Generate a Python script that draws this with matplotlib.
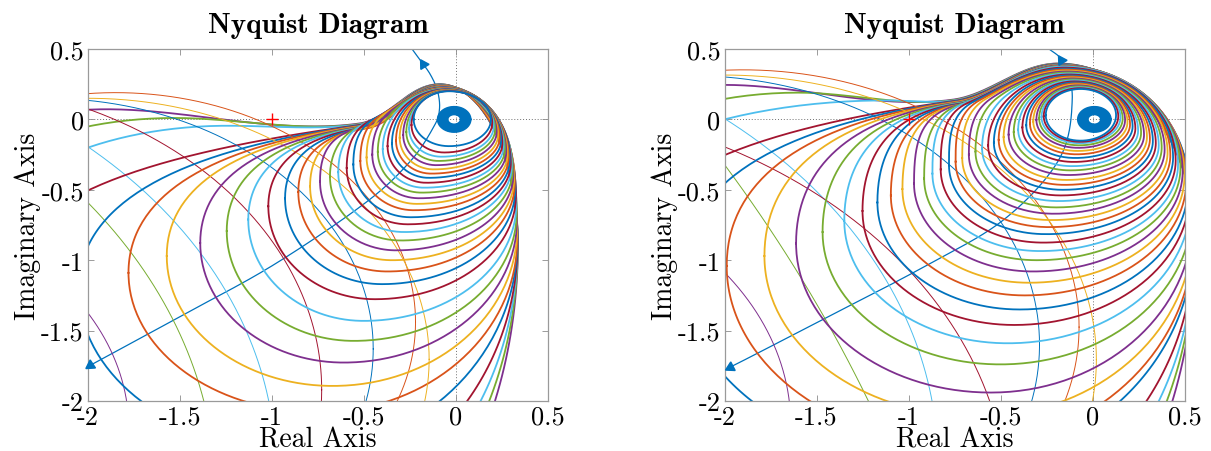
import numpy as np
import matplotlib
matplotlib.use("Agg")
import matplotlib.pyplot as plt

plt.rcParams["axes.unicode_minus"] = False

MATLAB_COLORS = ["#0072BD", "#D95319", "#EDB120", "#7E2F8E",
                 "#77AC30", "#4DBEEE", "#A2142F"]

TICKS = [-2, -1.5, -1, -0.5, 0, 0.5]
TICK_LABELS = ["-2", "-1.5", "-1", "-0.5", "0", "0.5"]

# ------------------------------------------------------------------
# Left panel: loops of systems k = 4 .. 36 (outermost first)
# ------------------------------------------------------------------
left_first_k = 4
left_loop_left_x = [-3.2, -2.91, -2.63, -2.45, -2.05, -1.78, -1.572, -1.39,
                    -1.246, -1.129, -1.02, -0.929, -0.857, -0.793, -0.739, -0.685, -0.64, -0.594,
                    -0.558, -0.52, -0.486, -0.455, -0.425, -0.398, -0.372, -0.348, -0.326, -0.306,
                    -0.287, -0.27, -0.255, -0.242, -0.23]
left_loop_left_y = [-1.0, -1.0, -1.0, -1.2, -1.2, -1.09, -0.97, -0.877,
                    -0.793, -0.711, -0.617, -0.56, -0.515, -0.475, -0.44, -0.405, -0.375, -0.345,
                    -0.32, -0.295, -0.27, -0.25, -0.23, -0.21, -0.19, -0.17, -0.15, -0.13,
                    -0.11, -0.09, -0.065, -0.04, 0.0]
left_loop_bottom_x = [-1.1, -1.05, -1.0, -0.95, -0.85, -0.749, -0.67, -0.61,
                      -0.555, -0.501, -0.44, -0.402, -0.373, -0.347, -0.324, -0.301, -0.282, -0.262,
                      -0.246, -0.229, -0.213, -0.2, -0.187, -0.174, -0.161, -0.148, -0.135, -0.122,
                      -0.108, -0.095, -0.079, -0.063, -0.037]
left_loop_bottom_y = [-3.6, -3.3, -3.0, -2.7, -2.35, -2.08, -1.893, -1.727,
                      -1.573, -1.431, -1.277, -1.17, -1.08, -1.0, -0.93, -0.86, -0.8, -0.745,
                      -0.695, -0.645, -0.6, -0.56, -0.52, -0.485, -0.45, -0.415, -0.385, -0.355,
                      -0.325, -0.295, -0.265, -0.235, -0.19]
left_loop_top_x = [-0.088, -0.087, -0.086, -0.085, -0.084, -0.083, -0.082, -0.081,
                   -0.08, -0.079, -0.078, -0.077, -0.076, -0.074, -0.072, -0.07, -0.068, -0.066,
                   -0.064, -0.062, -0.06, -0.058, -0.056, -0.054, -0.052, -0.05, -0.048, -0.046,
                   -0.044, -0.042, -0.04, -0.038, -0.036]
left_loop_top_y = [0.25, 0.249, 0.248, 0.247, 0.246, 0.245, 0.244, 0.243,
                   0.242, 0.241, 0.24, 0.239, 0.238, 0.236, 0.234, 0.232, 0.23, 0.228,
                   0.226, 0.224, 0.222, 0.22, 0.218, 0.216, 0.214, 0.212, 0.21, 0.208,
                   0.206, 0.205, 0.203, 0.202, 0.2]
left_loop_right_x = [0.336, 0.336, 0.335, 0.335, 0.334, 0.333, 0.332, 0.331,
                     0.33, 0.328, 0.326, 0.323, 0.32, 0.316, 0.312, 0.308, 0.303, 0.298,
                     0.292, 0.286, 0.28, 0.273, 0.266, 0.259, 0.252, 0.245, 0.237, 0.229,
                     0.221, 0.213, 0.205, 0.197, 0.19]
left_loop_right_y = [-0.9, -0.89, -0.88, -0.87, -0.86, -0.85, -0.78, -0.72,
                     -0.66, -0.6, -0.54, -0.49, -0.45, -0.42, -0.39, -0.36, -0.33, -0.31,
                     -0.29, -0.27, -0.25, -0.23, -0.21, -0.19, -0.17, -0.15, -0.13, -0.11,
                     -0.09, -0.07, -0.05, -0.025, 0.0]
# upper-left humps of the largest loops
left_loop_hump = [(-1.9, 0.072), (-1.53, 0.01), (-1.24, -0.045)]
left_pinch = (-0.53, -0.03)
left_pinch_sizes = (0.35, 0.75)

# thin circular branches: system k, centre and radius
left_thin_k = [4, 5, 6, 7, 8, 9, 10]
left_thin_cx = [-3.42, -4.76, -4.05, -2.93, -2.23, -1.85, -2.0]
left_thin_cy = [-2.2, -2.67, -2.48, -1.92, -1.63, -1.44, -1.704]
left_thin_r = [1.642, 3.455, 3.07, 2.2, 1.78, 1.63, 1.854]

# system 1 branch through the view
left_main_path = [(-2.1, -1.82), (-2.0, -1.755), (-1.5, -1.40), (-1.0, -1.04), (-0.5, -0.6),
                  (-0.25, -0.3), (-0.12, -0.05), (-0.09, 0.07), (-0.1, 0.2), (-0.14, 0.32),
                  (-0.2, 0.43), (-0.25, 0.52)]
left_arrow_at = [(-1.97, -1.775), (-0.175, 0.39)]
left_ring_center = (-0.01, 0.0)

# ------------------------------------------------------------------
# Right panel: loops of systems k = 4 .. 43 (outermost first)
# ------------------------------------------------------------------
right_first_k = 4
right_loop_left_x = [-3.3, -3.07, -2.98, -2.59, -2.228, -1.988, -1.783, -1.611,
                     -1.467, -1.349, -1.25, -1.169, -1.096, -1.033, -0.97, -0.915, -0.87, -0.825,
                     -0.78, -0.744, -0.708, -0.672, -0.636, -0.6, -0.567, -0.536, -0.51, -0.483,
                     -0.456, -0.428, -0.404, -0.381, -0.36, -0.34, -0.322, -0.305, -0.29, -0.277,
                     -0.265, -0.254]
right_loop_left_y = [-1.0, -1.0, -1.0, -1.1, -1.1, -1.04, -0.97, -0.88,
                     -0.8, -0.72, -0.65, -0.59, -0.54, -0.495, -0.455, -0.42, -0.385, -0.355,
                     -0.325, -0.3, -0.275, -0.25, -0.228, -0.206, -0.185, -0.165, -0.145, -0.126,
                     -0.108, -0.09, -0.073, -0.057, -0.042, -0.028, -0.015, -0.003, 0.008, 0.017,
                     0.024, 0.03]
right_loop_bottom_x = [-0.95, -0.9, -0.85, -0.8, -0.75, -0.68, -0.62, -0.552,
                       -0.5, -0.46, -0.425, -0.395, -0.368, -0.345, -0.323, -0.303, -0.285, -0.268,
                       -0.252, -0.237, -0.223, -0.21, -0.197, -0.185, -0.173, -0.162, -0.151, -0.14,
                       -0.13, -0.12, -0.111, -0.102, -0.094, -0.087, -0.081, -0.076, -0.072, -0.069,
                       -0.067, -0.065]
right_loop_bottom_y = [-3.7, -3.4, -3.1, -2.8, -2.45, -2.31, -2.11, -1.94,
                       -1.74, -1.59, -1.46, -1.35, -1.25, -1.16, -1.08, -1.0, -0.935, -0.875,
                       -0.815, -0.765, -0.715, -0.67, -0.625, -0.58, -0.54, -0.5, -0.465, -0.43,
                       -0.395, -0.362, -0.332, -0.302, -0.274, -0.248, -0.224, -0.202, -0.184, -0.169,
                       -0.159, -0.151]
right_loop_top_x = [-0.187, -0.185, -0.183, -0.182, -0.18, -0.178, -0.177, -0.175,
                    -0.173, -0.172, -0.17, -0.168, -0.167, -0.165, -0.163, -0.162, -0.16, -0.155,
                    -0.151, -0.147, -0.143, -0.139, -0.135, -0.131, -0.127, -0.123, -0.118, -0.114,
                    -0.11, -0.106, -0.102, -0.098, -0.094, -0.09, -0.086, -0.082, -0.078, -0.074,
                    -0.07, -0.065]
right_loop_top_y = [0.397, 0.396, 0.394, 0.393, 0.392, 0.39, 0.389, 0.388,
                    0.386, 0.385, 0.383, 0.382, 0.381, 0.379, 0.378, 0.376, 0.375, 0.368,
                    0.361, 0.354, 0.347, 0.34, 0.333, 0.326, 0.319, 0.312, 0.305, 0.298,
                    0.291, 0.284, 0.277, 0.27, 0.263, 0.256, 0.249, 0.242, 0.235, 0.228,
                    0.222, 0.216]
right_loop_right_x = [0.558, 0.557, 0.556, 0.554, 0.552, 0.55, 0.548, 0.546,
                      0.543, 0.535, 0.528, 0.52, 0.51, 0.5, 0.49, 0.478, 0.465, 0.452,
                      0.438, 0.423, 0.408, 0.392, 0.376, 0.36, 0.344, 0.328, 0.312, 0.296,
                      0.28, 0.264, 0.248, 0.233, 0.218, 0.204, 0.19, 0.177, 0.164, 0.152,
                      0.14, 0.128]
right_loop_right_y = [-0.88, -0.87, -0.86, -0.85, -0.83, -0.81, -0.76, -0.69,
                      -0.63, -0.57, -0.52, -0.47, -0.435, -0.4, -0.37, -0.345, -0.32, -0.295,
                      -0.27, -0.255, -0.235, -0.215, -0.2, -0.185, -0.17, -0.155, -0.14, -0.125,
                      -0.11, -0.095, -0.08, -0.065, -0.05, -0.035, -0.02, -0.005, 0.005, 0.015,
                      0.022, 0.03]
right_loop_hump = [(-2.0, 0.245), (-1.6, 0.19), (-1.12, 0.135)]
right_pinch = (-0.76, 0.14)
right_pinch_sizes = (0.45, 0.9)

right_thin_k = [4, 5, 6, 7, 8, 9, 10]
right_thin_cx = [-3.45, -12.0, -4.02, -3.35, -2.2, -1.9, -2.0]
right_thin_cy = [-2.17, -6.0, -2.45, -2.75, -1.6, -1.475, -1.706]
right_thin_r = [1.81, 11.5, 3.18, 2.89, 1.912, 1.827, 2.021]

right_main_path = [(-2.1, -1.83), (-1.97, -1.76), (-1.45, -1.41), (-0.92, -1.05), (-0.48, -0.71),
                   (-0.18, -0.28), (-0.11, 0.145), (-0.16, 0.405), (-0.235, 0.5), (-0.26, 0.55)]
right_arrow_at = [(-1.96, -1.77), (-0.18, 0.42)]
right_ring_center = (0.01, 0.0)

RING_RADII = np.linspace(0.035, 0.09, 14)


# ------------------------------------------------------------------
def system_color(k):
    return MATLAB_COLORS[(k - 1) % 7]


def unit(deg):
    a = np.radians(deg)
    return np.array([np.cos(a), np.sin(a)])


def normalize(v):
    return v / np.linalg.norm(v)


def cubic(p0, c1, c2, p1, n=70):
    t = np.linspace(0.0, 1.0, n)[:, None]
    return ((1 - t) ** 3) * p0 + 3 * ((1 - t) ** 2) * t * c1 + 3 * (1 - t) * t ** 2 * c2 + t ** 3 * p1


def segment(pa, ta, pb, tb):
    d = pb - pa
    if abs(np.dot(ta, tb)) < 0.3:
        ha = 0.5523 * abs(np.dot(d, ta))
        hb = 0.5523 * abs(np.dot(d, tb))
    else:
        phi = np.arccos(np.clip(np.dot(ta, tb), -1.0, 1.0))
        ha = hb = np.linalg.norm(d) / (3.0 * np.cos(phi / 4.0) ** 2)
    return cubic(pa, pa + ha * ta, pb - hb * tb, pb)


UP, RIGHT, DOWN, LEFT = unit(90), unit(0), unit(-90), unit(180)


def loop_points(i, lx, ly, bx, by, tx, ty, rx, ry, hump, pinch, sizes, pinch_angle=10.0):
    L = np.array([lx, ly])
    B = np.array([bx, by])
    T = np.array([tx, ty])
    R = np.array([rx, ry])
    a, b = tx - lx, ty - ly
    al = np.radians(45.0)
    natural = np.array([tx - a * np.cos(al), ly + b * np.sin(al)])
    natural_dir = normalize(np.array([a * np.sin(al), b * np.cos(al)]))
    w = np.clip((a - sizes[0]) / (sizes[1] - sizes[0]), 0.0, 1.0)
    pin = np.array([pinch[0] + 0.003 * i, pinch[1] - 0.003 * i])
    P = natural + w * (pin - natural)
    tP = normalize((1 - w) * natural_dir + w * unit(pinch_angle))
    anchors = [(L, UP)]
    if hump is not None:
        anchors.append((np.array(hump), RIGHT))
    anchors += [(P, tP), (T, RIGHT), (R, DOWN), (B, LEFT)]
    pieces = []
    for j in range(len(anchors)):
        pa, ta = anchors[j]
        pb, tb = anchors[(j + 1) % len(anchors)]
        pieces.append(segment(pa, ta, pb, tb))
    return np.vstack(pieces)


def smooth_through(pts, n=24):
    P = np.asarray(pts, float)
    P = np.vstack([2 * P[0] - P[1], P, 2 * P[-1] - P[-2]])
    out = []
    t = np.linspace(0, 1, n, endpoint=False)[:, None]
    for i in range(1, len(P) - 2):
        p0, p1, p2, p3 = P[i - 1], P[i], P[i + 1], P[i + 2]
        out.append(0.5 * (2 * p1 + (-p0 + p2) * t + (2 * p0 - 5 * p1 + 4 * p2 - p3) * t ** 2
                          + (-p0 + 3 * p1 - 3 * p2 + p3) * t ** 3))
    out.append(P[-2][None, :])
    return np.vstack(out)


def style_axes(ax):
    ax.set_xlim(-2, 0.5)
    ax.set_ylim(-2, 0.5)
    ax.set_xticks(TICKS)
    ax.set_yticks(TICKS)
    ax.set_xticklabels(TICK_LABELS, fontfamily="cmr10", fontsize=19)
    ax.set_yticklabels(TICK_LABELS, fontfamily="cmr10", fontsize=19)
    ax.tick_params(direction="in", length=4, width=0.6, color="#8c8c8c",
                   top=True, right=True, pad=3)
    for sp in ax.spines.values():
        sp.set_color("#9a9a9a")
        sp.set_linewidth(0.9)
    ax.set_title("Nyquist Diagram", fontfamily="cmb10", fontsize=21, pad=12)
    ax.set_xlabel("Real Axis", fontfamily="cmr10", fontsize=20, labelpad=-2)
    ax.set_ylabel("Imaginary Axis", fontfamily="cmr10", fontsize=20, labelpad=0)


def draw_panel(ax, first_k, lx, ly, bx, by, tx, ty, rx, ry, humps, pinch, sizes,
               thin_k, thin_cx, thin_cy, thin_r, main_path, arrows, ring_center):
    ax.axhline(0, color="#707070", ls=(0, (1, 2)), lw=0.7, zorder=1)
    ax.axvline(0, color="#707070", ls=(0, (1, 2)), lw=0.7, zorder=1)

    # system 1
    main = smooth_through(main_path)
    ax.plot(main[:, 0], main[:, 1], color=system_color(1), lw=0.9, zorder=2)

    th = np.linspace(0, 2 * np.pi, 1400)
    n = len(lx)
    for i in range(n):
        k = first_k + i
        col = system_color(k)
        if k in thin_k:
            j = thin_k.index(k)
            ax.plot(thin_cx[j] + thin_r[j] * np.cos(th), thin_cy[j] + thin_r[j] * np.sin(th),
                    color=col, lw=0.7, zorder=2 + k * 0.01)
        hump = humps[i] if i < len(humps) else None
        pts = loop_points(i, lx[i], ly[i], bx[i], by[i], tx[i], ty[i], rx[i], ry[i],
                          hump, pinch, sizes)
        ax.plot(pts[:, 0], pts[:, 1], color=col, lw=1.3, zorder=2 + k * 0.01)

    # tight high-frequency spiral of system 1
    for r in RING_RADII:
        ax.plot(ring_center[0] + r * np.cos(th), ring_center[1] + r * np.sin(th),
                color=system_color(1), lw=1.2, zorder=5)

    # direction arrows on system 1
    ax.figure.canvas.draw()
    disp = ax.transData.transform(main)
    for (xa, ya) in arrows:
        idx = np.argmin(np.hypot(main[:, 0] - xa, main[:, 1] - ya))
        i0, i1 = max(idx - 2, 0), min(idx + 2, len(main) - 1)
        d = disp[i1] - disp[i0]
        ang = np.degrees(np.arctan2(d[1], d[0]))
        if ya < -1:
            ang += 180
        ax.plot([main[idx, 0]], [main[idx, 1]], marker=(3, 0, ang - 90), ms=8,
                color=system_color(1), zorder=6, clip_on=False)

    ax.plot([-1], [0], marker="+", color="red", ms=9, mew=1.0, zorder=6)
    style_axes(ax)


fig = plt.figure(figsize=(12.11, 4.52), dpi=100)
axL = fig.add_axes([88 / 1211, 50 / 452, 460 / 1211, 352 / 452])
axR = fig.add_axes([724.5 / 1211, 50 / 452, 460 / 1211, 352 / 452])

draw_panel(axL, left_first_k, left_loop_left_x, left_loop_left_y, left_loop_bottom_x,
           left_loop_bottom_y, left_loop_top_x, left_loop_top_y, left_loop_right_x,
           left_loop_right_y, left_loop_hump, left_pinch, left_pinch_sizes,
           left_thin_k, left_thin_cx, left_thin_cy, left_thin_r,
           left_main_path, left_arrow_at, left_ring_center)
draw_panel(axR, right_first_k, right_loop_left_x, right_loop_left_y, right_loop_bottom_x,
           right_loop_bottom_y, right_loop_top_x, right_loop_top_y, right_loop_right_x,
           right_loop_right_y, right_loop_hump, right_pinch, right_pinch_sizes,
           right_thin_k, right_thin_cx, right_thin_cy, right_thin_r,
           right_main_path, right_arrow_at, right_ring_center)

fig.savefig("out.png", dpi=100)
